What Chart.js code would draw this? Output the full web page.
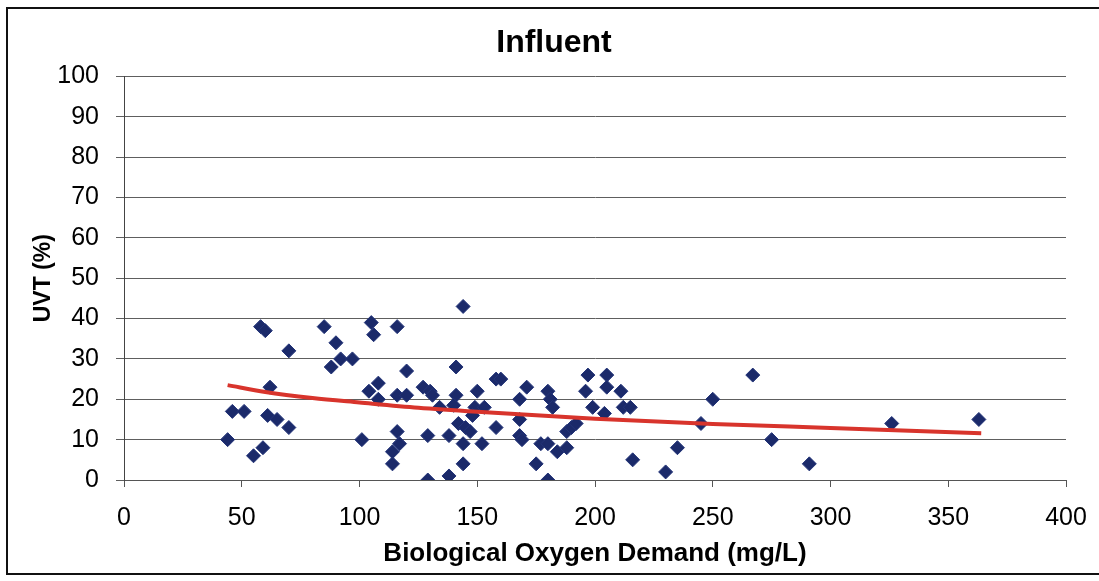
<!DOCTYPE html>
<html>
<head>
<meta charset="utf-8">
<title>Influent</title>
<script src="https://cdn.jsdelivr.net/npm/chart.js@4.4.1/dist/chart.umd.min.js"></script>
<style>
  html, body { margin: 0; padding: 0; background: #fff; overflow: hidden; }
  #frame {
    position: absolute; left: 6px; top: 7px; width: 1200px; height: 568px;
    border: 2px solid #111; box-sizing: border-box;
  }
  #wrap { position: absolute; left: 9px; top: 10px; width: 1090px; height: 566px; }
</style>
</head>
<body>
<div id="frame"></div>
<div id="wrap"><canvas id="chart"></canvas></div>
<script>
/* ─── Influent: UVT vs BOD ─────────────────────────────── */

const bod = [
  58, 60, 85, 90, 105, 106, 116, 70, 88, 92, 97, 120,
  62, 104, 108, 108, 116, 120, 127, 130, 131, 134,
  46, 51, 61, 65, 70, 44, 101, 116, 117, 114, 114,
  129, 138, 59, 55, 129, 138,
  144, 141, 158, 160, 197, 205, 141, 150, 171, 168, 180, 196, 205, 211,
  140, 149, 153, 148, 181, 182, 199, 212, 215, 204, 168,
  142, 145, 147, 158, 188, 190, 192,
  144, 152, 168, 169, 177, 180, 184, 188, 144, 175, 180,
  216, 230, 235,
  245, 250, 267, 275, 291, 326, 363
];
const uvt = [
  38, 37, 38, 34, 39, 36, 38, 32, 28, 30, 30, 27,
  23, 22, 24, 20, 21, 21, 23, 22, 21, 18,
  17, 17, 16, 15, 13, 10, 10, 12, 9, 7, 4,
  11, 11, 8, 6, 0, 1,
  43, 28, 25, 25, 26, 26, 21, 22, 23, 20, 22, 22, 23, 22,
  18.5, 18, 18, 16, 20, 18, 18, 18, 18, 16.5, 15,
  14, 13, 12, 13, 12, 13, 14,
  9, 9, 11, 10, 9, 9, 7, 8, 4, 4, 0,
  5, 2, 8,
  14, 20, 26, 10, 4, 14, 15
];

// red trendline
const trendX = [44, 60, 80, 100, 125, 150, 200, 250, 300, 364];
const trendY = [23.5, 21.8, 20.3, 19.2, 17.9, 16.9, 15.2, 13.9, 12.9, 11.6];

const xTicks = [0, 50, 100, 150, 200, 250, 300, 350, 400];
const yTicks = [0, 10, 20, 30, 40, 50, 60, 70, 80, 90, 100];

const FONT = '"Liberation Sans", Arial, sans-serif';

const points = bod.map((x, i) => ({ x, y: uvt[i] }));
const trend  = trendX.map((x, i) => ({ x, y: trendY[i] }));

new Chart(document.getElementById('chart'), {
  type: 'scatter',
  data: {
    datasets: [
      {
        type: 'line',
        label: 'Trend',
        data: trend,
        borderColor: '#D8342C',
        borderWidth: 4,
        pointRadius: 0,
        tension: 0.4,
        cubicInterpolationMode: 'monotone',
        fill: false
      },
      {
        label: 'UVT',
        data: points,
        pointStyle: 'rectRot',
        pointRadius: 7,
        backgroundColor: '#1B2A6A',
        borderColor: '#233478',
        borderWidth: 1
      }
    ]
  },
  options: {
    responsive: true,
    maintainAspectRatio: false,
    animation: false,
    plugins: {
      legend: { display: false },
      tooltip: { enabled: false },
      title: {
        display: true,
        text: 'Influent',
        color: '#000',
        font: { family: FONT, size: 32, weight: 'bold' },
        padding: { top: 14, bottom: 14 }
      }
    },
    scales: {
      x: {
        type: 'linear',
        min: 0, max: 400,
        afterBuildTicks: s => { s.ticks = xTicks.map(v => ({ value: v })); },
        afterFit: s => { s.height = 96; s.paddingLeft = 0; s.paddingRight = 33; },
        grid: { drawOnChartArea: false, color: '#555', tickLength: 7, lineWidth: 1 },
        border: { color: '#555', width: 1 },
        ticks: { color: '#000', padding: 16, font: { family: FONT, size: 25 } },
        title: {
          display: true,
          text: 'Biological Oxygen Demand (mg/L)',
          color: '#000',
          font: { family: FONT, size: 26, weight: 'bold' },
          padding: { top: 0, bottom: 7 }
        }
      },
      y: {
        min: 0, max: 100,
        afterBuildTicks: s => { s.ticks = yTicks.map(v => ({ value: v })); },
        afterFit: s => { s.width = 115; },
        grid: { color: '#5e5e5e', tickLength: 8, lineWidth: 1 },
        border: { color: '#444', width: 1 },
        ticks: { color: '#000', padding: 17, font: { family: FONT, size: 25 } },
        title: {
          display: true,
          text: 'UVT (%)',
          color: '#000',
          font: { family: FONT, size: 23, weight: 'bold' },
          padding: { top: 21, bottom: 0 }
        }
      }
    }
  }
});
</script>
</body>
</html>
